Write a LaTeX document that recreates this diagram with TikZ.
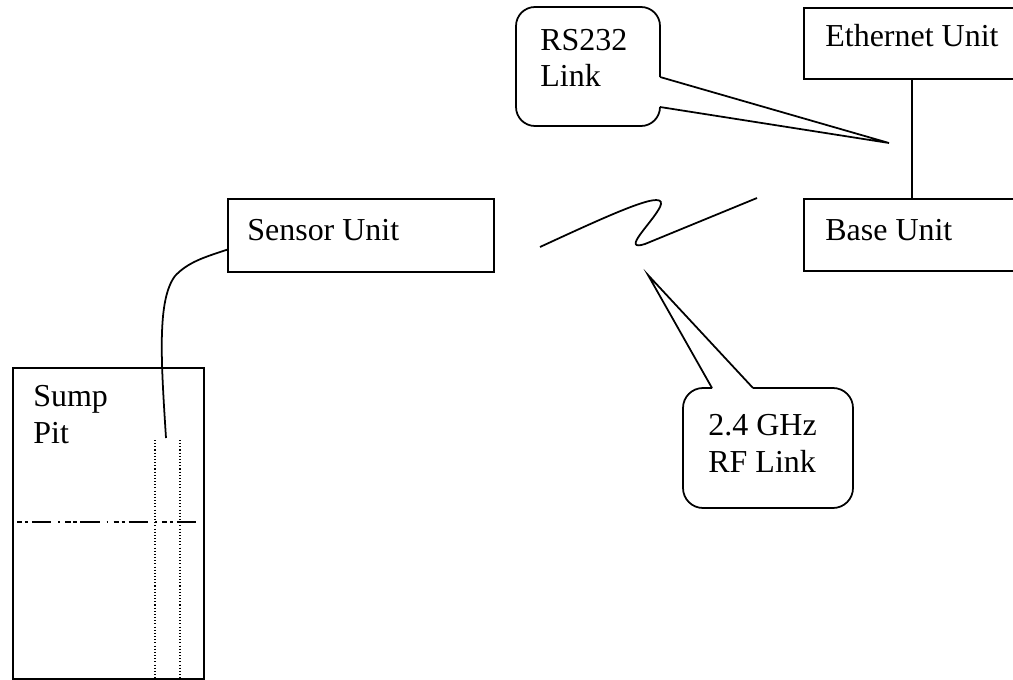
\documentclass[tikz,border=0pt]{standalone}
\usepackage{fontspec}
\setmainfont{Liberation Serif}
\usetikzlibrary{positioning}
\usetikzlibrary{calc}
\tikzset{unitbox/.style = {draw, line width = 1pt, rectangle, inner sep = 0, anchor = north west}}
\tikzset{txt/.style = {anchor = base west, inner sep = 0, align = left}}
\tikzset{wire/.style = {line width = 1pt}}
\tikzset{level/.style = {line width = 0.6pt, dash pattern = on 3pt off 1.5pt on 2pt off 2pt on 11pt off 4pt on 1pt off 3pt}}
\tikzset{probeline/.style = {line width = 0.7pt, dash pattern = on 0.6pt off 1.2pt}}

\begin{document}
\begin{tikzpicture}[x = 0.02cm, y = -0.02cm, font = \fontsize{18.2}{21}\selectfont]
    \useasboundingbox (0, 0) rectangle (1013, 679);
    \clip (0, 0) rectangle (1013, 679);

    % units
    \node [unitbox, minimum width = 4.34cm, minimum height = 1.42cm] (ether) at (803, 7) {};
    \node [unitbox, minimum width = 4.34cm, minimum height = 1.44cm] (base) at (803, 198) {};
    \node [unitbox, minimum width = 5.32cm, minimum height = 1.46cm] (sensor) at (227, 198) {};
    \node [unitbox, minimum width = 3.82cm, minimum height = 6.22cm] (sump) at (12, 367) {};

    \node [txt] (ethertxt) at (825, 47) {Ethernet Unit};
    \node [txt] (basetxt) at (825, 240) {Base Unit};
    \node [txt] (sensortxt) at (247, 240) {Sensor Unit};
    \node [txt] (sumptxt) at (33, 443) {Sump\\Pit};

    \draw [wire] (ether.south) -- (base.north);

    % inside the pit
    \draw [probeline] (155, 440) -- (155, 678);
    \draw [probeline] (180, 440) -- (180, 678);
    \draw [level] (17, 522) -- (203, 522);

    % cable from probe to sensor
    \coordinate (probe) at (166, 438);
    \coordinate (sensorin) at ($(sensor.south west) + (0, -23)$);
    \draw [wire] (probe) .. controls (161, 360) and (157, 300) .. (175, 276)
                         .. controls (188, 262) and (205, 257) .. (sensorin);

    % radio link
    \coordinate (linkA) at (540, 247);
    \coordinate (linkB) at (757, 198);
    \draw [wire] (linkA) .. controls (620, 210) and (669, 188) .. (660, 207)
                         .. controls (652, 223) and (620, 252) .. (645, 244) -- (linkB);

    % callouts
    \coordinate (rstip) at (889, 143);
    \draw [wire, rounded corners = 0.38cm] (660, 77) -- (660, 7) -- (516, 7) -- (516, 126) -- (660, 126) -- (660, 107);
    \draw [wire] (660, 107) -- (rstip) -- (660, 77);
    \node [txt] (rstxt) at (540, 87) {RS232\\Link};

    \coordinate (rftip) at (648, 275);
    \draw [wire, rounded corners = 0.4cm] (712, 388) -- (683, 388) -- (683, 508) -- (853, 508) -- (853, 388) -- (753, 388);
    \draw [wire] (753, 388) -- (rftip) -- (712, 388);
    \node [txt] (rftxt) at (708, 472) {2.4 GHz\\RF Link};
\end{tikzpicture}
\end{document}
